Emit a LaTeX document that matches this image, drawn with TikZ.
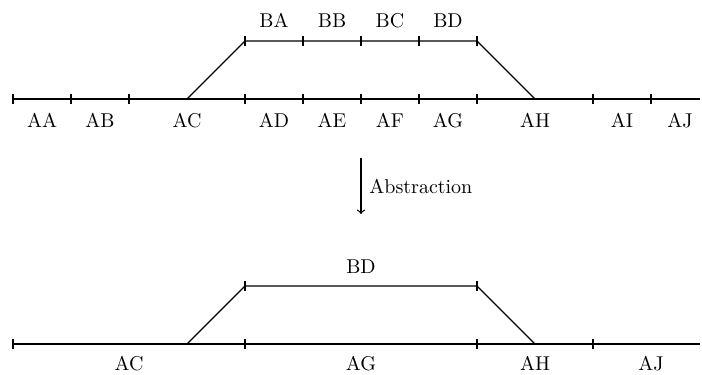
\documentclass[tikz,border=0pt]{standalone}
\usetikzlibrary{calc}
\begin{document}
\begin{tikzpicture}[x=0.5pt,y=-0.5pt,
  track/.style={line width=0.7pt},
  tickmark/.style={line width=0.6pt},
  lab/.style={inner sep=0pt, anchor=base, font=\normalsize},
  absarrow/.style={line width=0.6pt,-to}]
\useasboundingbox (0,0) rectangle (702,375);

% ---------- detailed track layout ----------
\foreach \x [count=\i] in {13,71,129,245,303,361,419,477,593,651}
  \coordinate (t\i) at (\x,99);
\coordinate (tend) at (700,99);
\coordinate (sw1) at (187,99);
\coordinate (sw2) at (535,99);
\foreach \x [count=\i] in {245,303,361,419,477}
  \coordinate (u\i) at (\x,41);

\draw[track] (t1) -- (tend);
\draw[track] (sw1) -- (u1) -- (u5) -- (sw2);
\foreach \i in {1,...,10}
  \draw[tickmark] ($(t\i)+(0,-5)$) -- ($(t\i)+(0,5)$);
\foreach \i in {1,...,5}
  \draw[tickmark] ($(u\i)+(0,-5)$) -- ($(u\i)+(0,5)$);

\foreach \x/\t in {42/AA,100/AB,187/AC,274/AD,332/AE,390/AF,448/AG,535/AH,622/AI,680/AJ}
  \node[lab] (l\t) at (\x,127) {\t};
\foreach \x/\t in {274/BA,332/BB,390/BC,448/BD}
  \node[lab] (l\t) at (\x,27) {\t};

% ---------- abstraction arrow ----------
\coordinate (absA) at (361,158);
\coordinate (absB) at (361,214);
\draw[absarrow] (absA) -- (absB);
\node[lab, anchor=base west] (abs) at (369,193) {Abstraction};

% ---------- abstracted track layout ----------
\foreach \x [count=\i] in {13,245,477,593}
  \coordinate (s\i) at (\x,344);
\coordinate (send) at (700,344);
\coordinate (sv1) at (187,344);
\coordinate (sv2) at (535,344);
\coordinate (v1) at (245,286);
\coordinate (v2) at (477,286);

\draw[track] (s1) -- (send);
\draw[track] (sv1) -- (v1) -- (v2) -- (sv2);
\foreach \i in {1,...,4}
  \draw[tickmark] ($(s\i)+(0,-5)$) -- ($(s\i)+(0,5)$);
\foreach \i in {1,2}
  \draw[tickmark] ($(v\i)+(0,-5)$) -- ($(v\i)+(0,5)$);

\foreach \x/\t in {129/AC,361/AG,535/AH,651/AJ}
  \node[lab] (m\t) at (\x,370) {\t};
\node[lab] (mBD) at (361,273) {BD};
\end{tikzpicture}
\end{document}
